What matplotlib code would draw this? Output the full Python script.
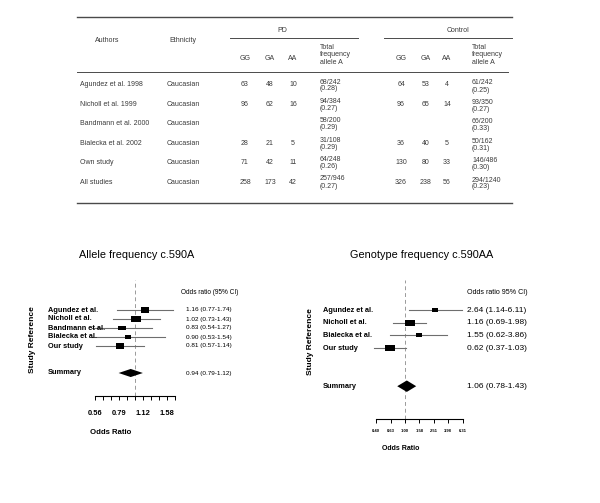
import numpy as np
import matplotlib
matplotlib.use("Agg")
import matplotlib.pyplot as plt
from matplotlib.path import Path
import matplotlib.transforms as mtransforms

# table data
authors = ["Agundez et al. 1998", "Nicholl et al. 1999", "Bandmann et al. 2000",
           "Bialecka et al. 2002", "Own study", "All studies"]
ethnicity = ["Caucasian"] * 6
pd_gg = [63, 96, None, 28, 71, 258]
pd_ga = [48, 62, None, 21, 42, 173]
pd_aa = [10, 16, None, 5, 11, 42]
pd_total = ["68/242\n(0.28)", "94/384\n(0.27)", "58/200\n(0.29)",
            "31/108\n(0.29)", "64/248\n(0.26)", "257/946\n(0.27)"]
ctrl_gg = [64, 96, None, 36, 130, 326]
ctrl_ga = [53, 65, None, 40, 80, 238]
ctrl_aa = [4, 14, None, 5, 33, 56]
ctrl_total = ["61/242\n(0.25)", "93/350\n(0.27)", "66/200\n(0.33)",
              "50/162\n(0.31)", "146/486\n(0.30)", "294/1240\n(0.23)"]

# allele frequency forest plot
al_labels = ["Agundez et al.", "Nicholl et al.", "Bandmann et al.", "Bialecka et al.", "Our study"]
al_or = [1.16, 1.02, 0.83, 0.90, 0.81]
al_lo = [0.77, 0.73, 0.54, 0.53, 0.57]
al_hi = [1.74, 1.43, 1.27, 1.54, 1.14]
al_weight = [0.85, 0.95, 0.72, 0.55, 0.88]
al_sum = (0.94, 0.79, 1.12)
al_ticks = [0.56, 0.63, 0.71, 0.79, 0.89, 1.00, 1.12, 1.26, 1.41, 1.58, 1.78]
al_ticklabels = {0.56: "0.56", 0.79: "0.79", 1.12: "1.12", 1.58: "1.58"}

# genotype frequency forest plot
gt_labels = ["Agundez et al.", "Nicholl et al.", "Bialecka et al.", "Our study"]
gt_or = [2.64, 1.16, 1.55, 0.62]
gt_lo = [1.14, 0.69, 0.62, 0.37]
gt_hi = [6.11, 1.98, 3.86, 1.03]
gt_weight = [0.62, 0.95, 0.55, 1.0]
gt_sum = (1.06, 0.78, 1.43)
gt_ticks = [0.40, 0.63, 1.00, 1.58, 2.51, 3.98, 6.31]
gt_ticklabels = {t: "%.2f" % t for t in gt_ticks}

W, H = 600, 503
fig = plt.figure(figsize=(6.0, 5.03), dpi=100)

TAB_FONT = ["Liberation Sans", "DejaVu Sans"]
NAR_FONT = ["Liberation Sans Narrow", "Liberation Sans", "DejaVu Sans"]
TXT = "#3a3a3a"


def fx(x):
    return x / W


def fy(y):
    return 1 - y / H


def ftext(x, y, s, **kw):
    kw.setdefault("fontsize", 5)
    kw.setdefault("color", TXT)
    kw.setdefault("family", TAB_FONT)
    kw.setdefault("va", "center")
    fig.text(fx(x), fy(y), s, **kw)


def fline(x0, x1, y, lw=0.7):
    fig.add_artist(plt.Line2D([fx(x0), fx(x1)], [fy(y), fy(y)], color="#4a4a4a",
                              lw=lw, transform=fig.transFigure))


# ---------- table ----------
fline(77, 512, 17, lw=1.0)
fline(230, 358, 38)
fline(384, 512, 38)
fline(77, 508, 72)
fline(77, 512, 203, lw=1.0)

ftext(282, 30, "PD", ha="center")
ftext(458, 30, "Control", ha="center")
ftext(107, 41, "Authors", ha="center")
ftext(183, 41, "Ethnicity", ha="center")
for x, s in [(245, "GG"), (270, "GA"), (293, "AA"), (401, "GG"), (426, "GA"), (447, "AA")]:
    ftext(x, 58, s, ha="center")
ftext(320, 55, "Total\nfrequency\nallele A", ha="left", linespacing=1.05)
ftext(472, 55, "Total\nfrequency\nallele A", ha="left", linespacing=1.05)

col_x = [245, 270, 293, 401, 426, 447]
for i, name in enumerate(authors):
    y = 85 + i * 19.4
    ftext(80, y, name, ha="left")
    ftext(183, y, ethnicity[i], ha="center")
    for x, col in zip(col_x, [pd_gg, pd_ga, pd_aa, ctrl_gg, ctrl_ga, ctrl_aa]):
        if col[i] is not None:
            ftext(x, y, str(col[i]), ha="center")
    ftext(320, y + 0.5, pd_total[i], ha="left", linespacing=1.0)
    ftext(472, y + 1.5, ctrl_total[i], ha="left", linespacing=1.0)

# box marker, a bit wider than tall
box = Path([(-1, -0.68), (1, -0.68), (1, 0.68), (-1, 0.68), (-1, -0.68)],
           [Path.MOVETO, Path.LINETO, Path.LINETO, Path.LINETO, Path.CLOSEPOLY])


def forest(left, right, top, bottom, one_px, px_dec, gap, labels, ors, lo, hi, wts,
           summ, ticks, ticklabels, lab_x, val_x, box_px, diam_h, tick_fs, tick_pad,
           lab_fs, val_fs):
    ax = fig.add_axes([fx(left), fy(bottom), (right - left) / W, (bottom - top) / H])
    ax.set_xscale("log")
    ax.set_xlim(10 ** ((left - one_px) / px_dec), 10 ** ((right - one_px) / px_dec))
    first = 310
    ax.set_ylim((bottom - first) / gap, (top - first) / gap)
    n = len(labels)
    ys = np.arange(n)
    ysum = n + 2
    ax.axvline(1.0, color="#9a9a9a", lw=0.7, ls=(0, (4, 3)), zorder=1)
    for y, o, l, h, w in zip(ys, ors, lo, hi, wts):
        ax.plot([l, h], [y, y], color="#6e6e6e", lw=0.8, clip_on=False, zorder=2)
        ax.plot([o], [y], marker=box, color="black", ms=box_px * w * 0.72,
                mew=0, clip_on=False, zorder=3)
    o, l, h = summ
    ax.fill([l, o, h, o], [ysum, ysum - diam_h, ysum, ysum + diam_h],
            color="black", lw=0, zorder=3)
    for s in ["top", "right", "left"]:
        ax.spines[s].set_visible(False)
    ax.spines["bottom"].set_bounds(ticks[0], ticks[-1])
    ax.spines["bottom"].set_linewidth(0.8)
    ax.set_yticks([])
    ax.set_xticks(ticks)
    ax.set_xticks([], minor=True)
    ax.set_xticklabels([ticklabels.get(t, "") for t in ticks], family=NAR_FONT,
                       fontweight="bold", fontsize=tick_fs)
    ax.tick_params(axis="x", length=3, width=0.7, pad=tick_pad, colors="black")
    ax.patch.set_visible(False)

    tr = mtransforms.blended_transform_factory(fig.transFigure, ax.transData)
    for y, s in zip(ys, labels):
        ax.text(fx(lab_x), y, s, transform=tr, ha="left", va="center", family=NAR_FONT,
                fontweight="bold", fontsize=lab_fs)
    ax.text(fx(lab_x), ysum, "Summary", transform=tr, ha="left", va="center",
            family=NAR_FONT, fontweight="bold", fontsize=lab_fs)
    for y, o2, l2, h2 in zip(ys, ors, lo, hi):
        ax.text(fx(val_x), y, "%.2f (%.2f-%.2f)" % (o2, l2, h2), transform=tr,
                ha="left", va="center", family=NAR_FONT, fontsize=val_fs)
    ax.text(fx(val_x), ysum, "%.2f (%.2f-%.2f)" % summ, transform=tr,
            ha="left", va="center", family=NAR_FONT, fontsize=val_fs)
    return ax


forest(40, 250, 280, 396, 135, 160, 9.0, al_labels, al_or, al_lo, al_hi, al_weight,
       al_sum, al_ticks, al_ticklabels, 48, 186, 10, 0.45, 5.4, 7.0, 5.3, 4.6)
forest(315, 590, 280, 419, 405, 72, 12.7, gt_labels, gt_or, gt_lo, gt_hi, gt_weight,
       gt_sum, gt_ticks, gt_ticklabels, 323, 467, 10, 0.45, 3.0, 4.5, 5.3, 6.0)

# titles and labels
ftext(137, 255, "Allele frequency c.590A", ha="center", fontsize=7.8, color="black",
      family=["Liberation Sans", "DejaVu Sans"])
ftext(422, 255, "Genotype frequency c.590AA", ha="center", fontsize=7.8, color="black",
      family=["Liberation Sans", "DejaVu Sans"])
ftext(181, 292, "Odds ratio (95% CI)", ha="left", fontsize=4.7, color="black", family=NAR_FONT)
ftext(467, 293, "Odds ratio 95% CI)", ha="left", fontsize=5.1, color="black", family=NAR_FONT)
ftext(33, 340, "Study Reference", ha="center", rotation=90, fontsize=6.0, color="black",
      family=TAB_FONT, fontweight="bold")
ftext(311, 342, "Study Reference", ha="center", rotation=90, fontsize=6.0, color="black",
      family=TAB_FONT, fontweight="bold")
ftext(111, 433, "Odds Ratio", ha="center", fontsize=5.6, color="black",
      family=NAR_FONT, fontweight="bold")
ftext(401, 448, "Odds Ratio", ha="center", fontsize=5.0, color="black",
      family=NAR_FONT, fontweight="bold")

fig.savefig("out.png", dpi=100)
